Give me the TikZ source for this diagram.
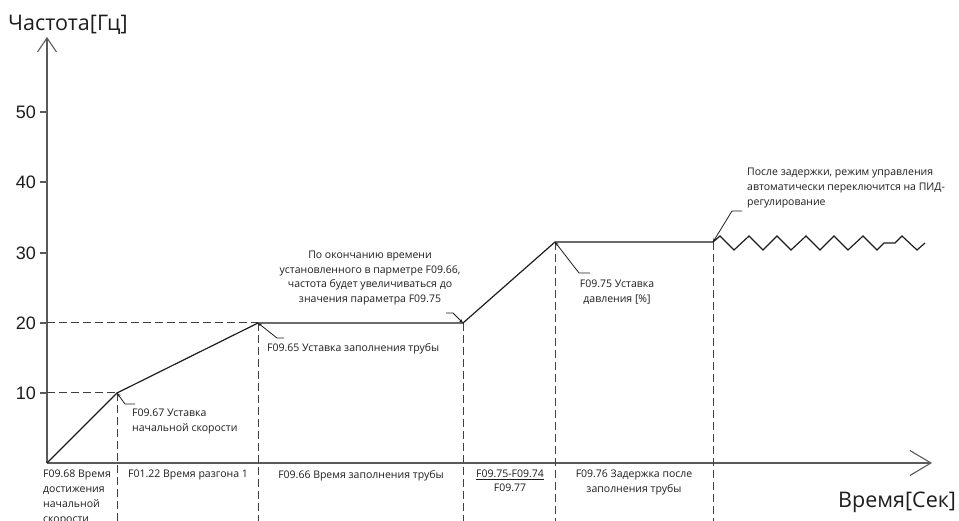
\documentclass[tikz,border=0pt]{standalone}
\usepackage{fontspec}
\setmainfont{Open Sans}
\newfontfamily\numfont{Liberation Sans}
\usetikzlibrary{arrows.meta}
\definecolor{axisgray}{HTML}{5A5A5A}
\definecolor{inkc}{HTML}{1E1E1E}
\begin{document}
\begin{tikzpicture}[x=1pt,y=-1pt,
  axisline/.style={draw=axisgray, line width=1.1pt},
  curveline/.style={draw=inkc, line width=1.2pt, line join=miter},
  guideline/.style={draw=inkc!85, line width=1pt, dash pattern=on 8pt off 4pt},
  leaderline/.style={draw=inkc, line width=0.8pt, -{Stealth[length=4pt,width=3pt]}},
  lbl/.style={font=\fontsize{10.5}{15}\selectfont, inner sep=0pt, text=inkc},
  biglbl/.style={font=\fontsize{21.5}{24}\selectfont, inner sep=0pt, text=inkc},
  ticklbl/.style={font=\numfont\fontsize{18}{20}\selectfont, inner sep=0pt, anchor=east, text=inkc}]
\useasboundingbox (0,0) rectangle (959,521);
\clip (0,0) rectangle (959,521);
\fill[white] (0,0) rectangle (959,521);

% coordinates
\coordinate (O) at (47,463);
\coordinate (Ytop) at (47,37);
\coordinate (Xend) at (932,463);
\coordinate (P1) at (117,393);
\coordinate (P2) at (258,323);
\coordinate (P3) at (463,323);
\coordinate (P4) at (555,242);
\coordinate (P5) at (713,242);
\coordinate (Y10) at (47,393);
\coordinate (Y20) at (47,323);
\foreach \n/\x in {1/117,2/258,3/463,4/555,5/713}{\coordinate (B\n) at (\x,525);}

% axes
\draw[axisline, -{Straight Barb[length=14pt,width=19pt]}] (O) -- (Ytop);
\draw[axisline, -{Straight Barb[length=21pt,width=25pt]}] (O) -- (Xend);

% ticks and labels
\foreach \v/\y in {10/393,20/323,30/253,40/182,50/112}{
  \draw[axisline] (40,\y) -- (47,\y);
  \node[ticklbl] (t\v) at (36,\y) {\v};
}

\node[biglbl, anchor=base west] (ylab) at (8,31) {Частота[Гц]};
\node[biglbl, anchor=base west] (xlab) at (838,507) {Время[Сек]};

% guides
\draw[guideline] (Y10) -- (P1);
\draw[guideline] (Y20) -- (P2);
\foreach \n in {1,...,5}{\draw[guideline] (P\n) -- (B\n);}

% curve
\draw[curveline] (O) -- (P1) -- (P2) -- (P3) -- (P4) -- (P5);
\draw[curveline] (P5) -- (720,236) -- (734,250) -- (749,236) -- (763,250) -- (777,236)
  -- (791,250) -- (806,236) -- (820,250) -- (834,236) -- (848,250) -- (863,236)
  -- (877,250) -- (884,243) -- (895,243) -- (902,236) -- (917,250) -- (925,243);

% leaders
\coordinate (L1a) at (125,404); \coordinate (L1b) at (135,404);
\coordinate (L2a) at (277,338); \coordinate (L2b) at (284,338);
\coordinate (L3a) at (453,313); \coordinate (L3b) at (446,313);
\coordinate (L4a) at (579,273); \coordinate (L4b) at (590,273);
\coordinate (L5a) at (732,211); \coordinate (L5b) at (742,211);
\draw[leaderline] (L1b) -- (L1a) -- (P1);
\draw[leaderline] (L2b) -- (L2a) -- (P2);
\draw[leaderline] (L3b) -- (L3a) -- (P3);
\draw[leaderline] (L4b) -- (L4a) -- (P4);
\draw[leaderline] (L5b) -- (L5a) -- (P5);

% annotations
\node[lbl, anchor=north west, align=left] (a1) at (132,409) {F09.67 Уставка\\начальной скорости};
\node[lbl, anchor=north west, align=left] (a2) at (267,343) {F09.65 Уставка заполнения трубы};
\node[lbl, anchor=north, align=center, font=\fontsize{10.5}{14.5}\selectfont] (a3) at (370,251)
  {По окончанию времени\\установленного в парметре F09.66,\\частота будет увеличиваться до\\значения параметра F09.75};
\node[lbl, anchor=north, align=center] (a4) at (617,280) {F09.75 Уставка\\давления [\%]};
\node[lbl, anchor=north west, align=left] (a5) at (747,168)
  {После задержки, режим управления\\автоматически переключится на ПИД-\\регулирование};

% bottom labels
\node[lbl, anchor=north west, align=left] (b0) at (43,470) {F09.68 Время\\достижения\\начальной\\скорости};
\node[lbl, anchor=north, align=center] (b1) at (188,470) {F01.22 Время разгона 1};
\node[lbl, anchor=north, align=center] (b2) at (361,470) {F09.66 Время заполнения трубы};
\node[lbl, anchor=north, align=center, font=\fontsize{10.5}{13.5}\selectfont] (b3) at (510,470) {\underline{F09.75-F09.74}\\F09.77};
\node[lbl, anchor=north, align=center] (b4) at (634,470) {F09.76 Задержка после\\заполнения трубы};
\end{tikzpicture}
\end{document}
